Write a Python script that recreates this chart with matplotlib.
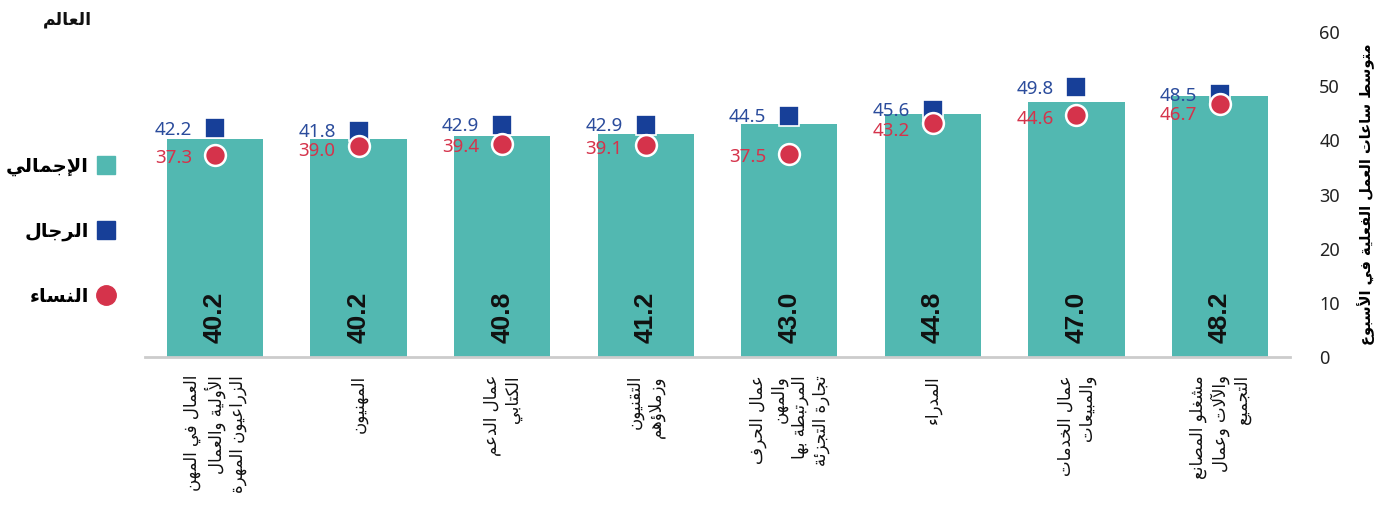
import matplotlib
matplotlib.use('Agg')
import matplotlib.pyplot as plt
from matplotlib.lines import Line2D

# Arabic joining: map letters to presentation forms (FE80 block) and reverse for LTR drawing
LETTERS = "ءآأؤإئابةتثجحخدذرزسشصضطظعغفقكلمنهوىي"
COUNTS = [1, 2, 2, 2, 2, 4, 2, 4, 2, 4, 4, 4, 4, 4, 2, 2, 2, 2,
          4, 4, 4, 4, 4, 4, 4, 4, 4, 4, 4, 4, 4, 4, 4, 2, 2, 4]
FORMS = {}
_code = 0xFE80
for _ch, _n in zip(LETTERS, COUNTS):
    FORMS[_ch] = (_code, _n)
    _code += _n
LAM_ALEF = {'آ': 0xFEF5, 'أ': 0xFEF7, 'إ': 0xFEF9, 'ا': 0xFEFB}


def shape_line(line):
    out = []
    i = 0
    n = len(line)
    while i < n:
        ch = line[i]
        if ch not in FORMS:
            out.append(ch)
            i += 1
            continue
        prev = line[i - 1] if i > 0 else ''
        joins_prev = FORMS.get(prev, (0, 0))[1] == 4 and FORMS[ch][1] >= 2
        if ch == 'ل' and i + 1 < n and line[i + 1] in LAM_ALEF:
            out.append(chr(LAM_ALEF[line[i + 1]] + joins_prev))
            i += 2
            continue
        nxt = line[i + 1] if i + 1 < n else ''
        joins_next = FORMS[ch][1] == 4 and FORMS.get(nxt, (0, 0))[1] >= 2
        if joins_prev and joins_next:
            off = 3
        elif joins_prev:
            off = 1
        elif joins_next:
            off = 2
        else:
            off = 0
        out.append(chr(FORMS[ch][0] + off))
        i += 1
    return ''.join(reversed(out))


def ar(text):
    return '\n'.join(shape_line(l) for l in text.split('\n'))


categories = [
    "العمال في المهن\nالأولية والعمال\nالزراعيون المهرة",
    "المهنيون",
    "عمال الدعم\nالكتابي",
    "التقنيون\nوزملاؤهم",
    "عمال الحرف\nوالمهن\nالمرتبطة بها\nتجارة التجزئة",
    "المدراء",
    "عمال الخدمات\nوالمبيعات",
    "مشغلو المصانع\nوالآلات وعمال\nالتجميع",
]
total = [40.2, 40.2, 40.8, 41.2, 43.0, 44.8, 47.0, 48.2]
men = [42.2, 41.8, 42.9, 42.9, 44.5, 45.6, 49.8, 48.5]
women = [37.3, 39.0, 39.4, 39.1, 37.5, 43.2, 44.6, 46.7]

TEAL = '#52b8b1'
NAVY = '#173f98'
RED = '#d5334b'
AR_FONT = ['DejaVu Sans']
NUM_FONT = ['Noto Sans', 'DejaVu Sans']

fig = plt.figure(figsize=(13.89, 5.05), dpi=100)
ax = fig.add_axes([145 / 1389, 148 / 505, 1145 / 1389, 325 / 505])

x = range(len(categories))
ax.bar(x, total, width=0.67, color=TEAL, zorder=1)
ax.plot(x, men, 's', color=NAVY, ms=14.5, mec='white', mew=1.2, zorder=3)
ax.plot(x, women, 'o', color=RED, ms=15, mec='white', mew=1.8, zorder=4)

for i in x:
    ax.annotate(f"{total[i]:.1f}", (i, 0), xytext=(0, 10), textcoords='offset points',
                rotation=90, ha='center', va='bottom', fontsize=19, fontweight='bold',
                family=['Liberation Sans'], color='#111111')
    ax.annotate(f"{men[i]:.1f}", (i, men[i]), xytext=(-16.5, -1), textcoords='offset points',
                ha='right', va='center', fontsize=13.5, family=NUM_FONT, color='#2b4c9c', zorder=5)
    # keep the women label clear of the men label when the two are close
    wy = min(women[i], men[i] - 3.2)
    ax.annotate(f"{women[i]:.1f}", (i, wy), xytext=(-16.5, -2.5), textcoords='offset points',
                ha='right', va='center', fontsize=13.5, family=NUM_FONT, color=RED, zorder=5)

ax.set_xlim(-0.4875, len(categories) - 0.5125)
ax.set_ylim(0, 60)
ax.set_yticks(range(0, 61, 10))
ax.yaxis.tick_right()
ax.tick_params(axis='y', length=0, pad=21, labelsize=13, labelcolor='#222222')
for lab in ax.get_yticklabels():
    lab.set_family(NUM_FONT)
ax.yaxis.set_label_position('right')
ax.set_ylabel(ar("متوسط ساعات العمل الفعلية في الأسبوع"), rotation=90, fontsize=10.5,
              fontweight='bold', family=AR_FONT, labelpad=12)

ax.set_xticks(list(x))
ax.set_xticklabels([ar(c) for c in categories], rotation=90, ha='center', va='top',
                   multialignment='right', fontsize=12, family=AR_FONT, color='#111111')
ax.tick_params(axis='x', length=0, pad=13)

for side in ['top', 'left', 'right']:
    ax.spines[side].set_visible(False)
ax.spines['bottom'].set_color('#cccccc')
ax.spines['bottom'].set_linewidth(2)

handles = [
    Line2D([], [], marker='s', ls='none', color=TEAL, ms=13),
    Line2D([], [], marker='s', ls='none', color=NAVY, ms=13),
    Line2D([], [], marker='o', ls='none', color=RED, ms=14),
]
fig.legend(handles, [ar("الإجمالي"), ar("الرجال"), ar("النساء")],
           loc='upper right', bbox_to_anchor=(116 / 1389, 1 - 157 / 505),
           markerfirst=False, frameon=False, labelspacing=2.35, handlelength=1.0,
           handletextpad=0.4, borderpad=0, borderaxespad=0,
           prop={'family': AR_FONT, 'weight': 'bold', 'size': 14})

fig.text(92 / 1389, 1 - 20 / 505, ar("العالم"), ha='right', va='center',
         fontsize=12.5, fontweight='bold', family=AR_FONT, color='#111111')

fig.savefig('out.png', dpi=100)
plt.close()
